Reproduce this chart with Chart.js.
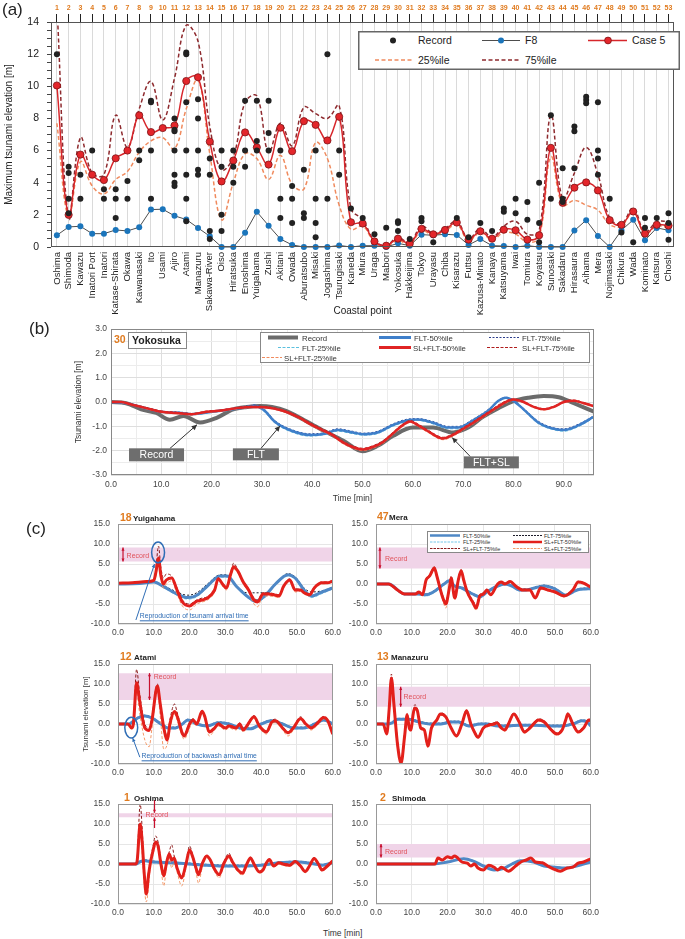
<!DOCTYPE html>
<html>
<head>
<meta charset="utf-8">
<script src="https://cdn.jsdelivr.net/npm/chart.js@4.4.1/dist/chart.umd.min.js"></script>
<style>
  body { margin: 0; background: #fff; font-family: "Liberation Sans", Arial, sans-serif; }
  #page { position: relative; width: 685px; height: 939px; overflow: hidden; background: #fff; }
  .t { position: absolute; white-space: nowrap; color: #222; line-height: 1.2; z-index: 5; }
  .ov { position: absolute; z-index: 5; font-family: "Liberation Sans", Arial, sans-serif; }
</style>
</head>
<body>
<div id="page"></div>
<script>
// ---------- (a) maximum tsunami elevation per coastal point ----------
const names = ['Oshima', 'Shimoda', 'Kawazu', 'Inatori Port', 'Inatori', 'Katase-Shirata', 'Okawa', 'Kawanasaki', 'Ito', 'Usami',
  'Ajiro', 'Atami', 'Manazuru', 'Sakawa-River', 'Oiso', 'Hiratsuka', 'Enoshima', 'Yuigahama', 'Zushi', 'Akitani',
  'Owada', 'Aburatsubo', 'Misaki', 'Jogashima', 'Tsurugisaki', 'Kaneda', 'Miura', 'Uraga', 'Mabori', 'Yokosuka',
  'Hakkeijima', 'Tokyo', 'Urayasu', 'Chiba', 'Kisarazu', 'Futtsu', 'Kazusa-Minato', 'Kanaya', 'Katsuyama', 'Iwai',
  'Tomiura', 'Koyatsu', 'Sunosaki', 'Sakadaru', 'Hirasaura', 'Aihama', 'Mera', 'Nojimasaki', 'Chikura', 'Wada',
  'Kominato', 'Katsura', 'Choshi'];
const pointNo = names.map((n, i) => String(i + 1));

const f8 = [0.73, 1.25, 1.29, 0.83, 0.83, 1.06, 1.0, 1.23, 2.33, 2.35, 1.94, 1.71, 1.19, 0.67, 0, 0, 0.88, 2.19, 1.33, 0.5,
  0.13, 0, 0, 0, 0.1, 0, 0.08, 0.08, 0, 0.23, 0.08, 0.77, 0.73, 0.79, 0.75, 0.13, 0.5, 0.08, 0.06, 0,
  0.08, 0, 0, 0, 1.02, 1.67, 0.69, 0, 1.04, 1.69, 0.42, 1.19, 1.04];
const case5 = [10.05, 2.0, 5.75, 4.5, 4.17, 5.52, 6.0, 8.19, 7.15, 7.4, 7.56, 10.33, 10.56, 6.56, 4.08, 5.38, 7.13, 6.2, 5.13, 7.42,
  5.96, 7.83, 7.6, 6.63, 8.1, 1.54, 1.46, 0.35, 0.08, 0.52, 0.21, 1.13, 0.79, 1.06, 1.52, 0.46, 0.98, 0.52, 1.08, 1.04,
  0.46, 0.73, 6.17, 2.75, 3.69, 4.02, 3.52, 1.67, 1.38, 2.21, 0.83, 1.38, 1.33];
const p25 = [7.7, 1.9, 5.3, 3.8, 3.3, 4.2, 4.7, 5.9, 6.6, 6.8, 6.1, 8.6, 10.4, 5.8, 1.7, 4.0, 5.8, 5.5, 4.2, 5.7,
  3.9, 3.6, 6.5, 5.5, 2.6, 1.1, 1.3, 0.3, 0.05, 0.4, 0.15, 1.0, 0.75, 1.0, 1.4, 0.4, 0.9, 0.45, 0.9, 0.8,
  0.3, 0.6, 5.6, 2.6, 2.9, 2.6, 2.3, 1.4, 1.3, 2.2, 0.8, 1.3, 1.2];
const p75 = [15, 1.8, 6.8, 4.6, 4.5, 8.2, 6.2, 8.6, 10.3, 7.9, 10.5, 13.8, 12.8, 7.5, 4.8, 5.6, 9.0, 9.4, 5.9, 7.7,
  6.3, 8.7, 8.3, 8.0, 8.8, 2.4, 1.7, 0.4, 0.1, 0.6, 0.25, 1.3, 0.85, 1.15, 1.6, 0.5, 1.15, 0.6, 1.3, 1.6,
  0.8, 1.0, 8.2, 3.0, 4.6, 6.2, 4.5, 1.8, 1.45, 2.4, 0.95, 1.55, 1.6];
const recordVals = [[12.0], [5.0, 4.6, 3.0, 2.1], [4.5, 3.0], [6.0], [3.6, 3.0], [3.6, 3.0, 1.8], [4.1, 3.0], [6.0, 5.4],
  [9.1, 9.0, 6.0, 3.0], [], [8.0, 7.3, 7.2, 6.0, 4.5, 4.0, 3.8], [12.1, 12.0, 9.0, 6.0, 4.5, 3.0, 1.6], [9.2, 8.0, 6.0, 4.8, 4.5],
  [5.5, 4.5, 1.0, 0.5], [6.0, 5.0, 2.0, 1.0], [6.0, 5.0, 4.0], [9.1, 6.0, 5.0], [9.1, 6.6, 6.0], [9.1, 7.1, 6.0],
  [6.0, 3.0, 1.8], [3.8, 3.0, 1.5], [4.8, 2.1, 1.8], [6.0, 3.0, 1.5, 0.6], [12.0, 3.0], [6.0, 4.5], [2.4], [1.8], [0.8],
  [1.2], [1.6, 1.5, 1.0], [0.5], [1.8, 1.6], [0.3], [], [1.8], [0.6], [1.5], [1.0], [2.4, 2.2], [3.0, 2.1], [2.8, 1.7],
  [4.0, 1.5, 0.3], [8.2, 3.0], [4.9, 3.0, 2.8], [7.5, 7.2, 4.9], [9.35, 9.15, 8.95], [9.0, 6.0, 5.5, 4.5], [3.0], [0.9],
  [0.3], [1.8, 1.2], [1.8], [2.1, 1.5, 0.45]];

// ---------- (b) Yokosuka time series ----------
const ykRecT = [0, 3, 6, 9, 11.7, 14.4, 17.7, 21, 24.3, 27, 29.6, 32, 34.9, 38, 41.6, 46.2, 50, 53, 56, 60, 64, 68, 71, 74, 77, 80, 83, 86, 89, 92, 96];
const ykRec = [0, -0.05, -0.3, -0.45, -0.73, -0.57, -0.84, -0.65, -0.3, -0.2, -0.16, -0.2, -0.37, -0.7, -1.11, -1.59, -2.02, -1.8, -1.4, -1.05,
  -1.05, -1.25, -1.05, -0.6, -0.25, 0.04, 0.18, 0.25, 0.2, -0.05, -0.4];
const ykFltT = [0, 3, 6, 10, 14, 16, 20, 24, 27, 28.5, 30.5, 32.5, 35.5, 39.5, 42.5, 45, 48, 50, 53, 56, 59, 61, 64, 67, 69, 72, 75, 77, 78.5, 80, 82, 85, 88, 90, 93, 96];
const ykFlt50 = [0, -0.05, -0.2, -0.4, -0.45, -0.5, -0.4, -0.3, -0.2, -0.15, -0.35, -0.8, -1.15, -1.35, -1.3, -1.15, -1.25, -1.32, -1.25, -0.95,
  -0.75, -0.72, -0.85, -1.05, -1.05, -0.75, -0.35, 0.05, 0.18, 0.05, -0.3, -0.85, -1.1, -1.15, -0.95, -0.6];
const ykFlt75 = [0, -0.04, -0.18, -0.38, -0.42, -0.47, -0.37, -0.27, -0.17, -0.12, -0.3, -0.75, -1.1, -1.3, -1.26, -1.1, -1.2, -1.28, -1.2, -0.9,
  -0.7, -0.68, -0.8, -1.0, -1.0, -0.7, -0.3, 0.08, 0.2, 0.08, -0.26, -0.8, -1.06, -1.1, -0.9, -0.56];
const ykFlt25 = [0, -0.06, -0.22, -0.42, -0.48, -0.53, -0.43, -0.33, -0.23, -0.18, -0.4, -0.85, -1.2, -1.4, -1.34, -1.2, -1.3, -1.36, -1.3, -1.0,
  -0.8, -0.76, -0.9, -1.1, -1.1, -0.8, -0.4, 0.02, 0.15, 0.02, -0.34, -0.9, -1.14, -1.2, -1.0, -0.64];
const ykSlT = [0, 2, 4, 7, 10, 13, 16, 19, 22, 25, 28, 31, 34, 37, 40, 42, 44, 46, 48, 50, 52, 54, 56, 58, 59.5, 61, 63, 66, 68, 70,
  72, 75, 78, 80, 82, 84, 86, 88, 90, 92, 94, 96];
const ykSl50 = [0, 0, -0.1, -0.25, -0.4, -0.45, -0.5, -0.4, -0.35, -0.25, -0.2, -0.22, -0.35, -0.6, -0.95, -1.15, -1.35, -1.65, -1.85, -1.95,
  -1.85, -1.65, -1.3, -0.95, -0.8, -0.95, -1.2, -1.5, -1.35, -1.1, -0.85, -0.45, -0.05, 0.1, 0.0, -0.2, -0.3, -0.2, 0.0, 0.05, -0.05, -0.17];
const ykSl75 = [0, 0.02, -0.08, -0.22, -0.37, -0.42, -0.47, -0.37, -0.32, -0.22, -0.17, -0.19, -0.32, -0.56, -0.9, -1.1, -1.3, -1.6, -1.8, -1.9,
  -1.8, -1.6, -1.25, -0.9, -0.76, -0.9, -1.15, -1.45, -1.3, -1.05, -0.8, -0.4, 0, 0.13, 0.03, -0.17, -0.27, -0.17, 0.03, 0.08, -0.02, -0.14];
const ykSl25 = [0, -0.02, -0.12, -0.28, -0.43, -0.48, -0.53, -0.43, -0.38, -0.28, -0.23, -0.25, -0.38, -0.64, -1.0, -1.2, -1.4, -1.7, -1.9, -2.0,
  -1.9, -1.7, -1.35, -1.0, -0.84, -1.0, -1.25, -1.55, -1.4, -1.15, -0.9, -0.5, -0.1, 0.07, -0.03, -0.23, -0.33, -0.23, -0.03, 0.02, -0.08, -0.2];

// ---------- (c) six stations ----------
const yuiRedT = [0, 4, 8, 10, 10.6, 11.3, 12, 12.7, 13.5, 15, 16.5, 18, 20, 22, 23.5, 25, 27, 28, 29.2, 30.3, 31.5, 32.3, 33.5, 35, 36.5, 38, 39, 40.5, 42, 44, 45, 46.3, 48, 49.5, 51, 52, 53.5, 55, 57, 58.5, 60];
const yuiRed50 = [0.2, 0.3, 0.6, 0.9, 3, 6.5, 2, 0, 1, 1.5, -1.5, -4.5, -5.5, -4.3, -4, -3.5, -1.5, 1.3, 0, -1, 2.5, 4.3, 3.2, 0.5, -1.5, -4, -4.5, -2.5, -2.5, -2.8, -3, -0.5, 1, -1.5, -1.5, -2.2, -2.7, -0.8, 0.3, 0.3, 0.7];
const yuiRed75 = [0.2, 0.3, 0.6, 1, 4, 9.5, 4, 1.5, 2.5, 2, -1, -4, -5, -4, -3.5, -3.2, -1.2, 1.5, 0.3, -0.7, 3, 5.2, 3.5, 0.8, -1.2, -3.5, -4, -2.2, -2.2, -2.5, -2.7, -0.3, 1.3, -1.2, -1.3, -2, -2.5, -0.5, 0.5, 0.5, 0.9];
const yuiRed25 = [0.2, 0.3, 0.6, 0.8, 2, 5.5, 1, -1, 0, 0.8, -2.5, -5.5, -6.5, -5, -4.5, -4, -2, 1, -0.5, -1.5, 2, 3.8, 2.8, 0, -2, -5, -5.7, -3, -3, -3.2, -3.4, -1, 0.6, -2, -1.8, -2.5, -3, -1.2, 0, 0.1, 0.5];
const yuiBlueT = [0, 6, 10, 13, 16, 19.5, 22, 25, 28.5, 30.5, 33, 36, 38.5, 41, 44, 47.5, 49.5, 52, 54, 57, 60];
const yuiBlue50 = [0, 0.1, 0.5, -0.8, -2.3, -3.4, -2.8, -0.5, 2, 2, -0.5, -3, -4.3, -3, 0, 2.3, 1.5, -1.5, -3, -2, -1];
const yuiBlue75 = [0, 0.1, 0.6, -0.5, -1.8, -2.8, -2.2, 0, 2.3, 2.3, -0.3, -2.2, -2.2, -2.2, 0.2, 2.6, 1.8, -1, -2, -1.7, -0.8];
const yuiBlue25 = [0, 0.1, 0.4, -1, -2.6, -3.8, -3.2, -0.8, 1.7, 1.7, -0.8, -3.3, -4.6, -3.4, -0.3, 2, 1.2, -1.8, -3.4, -2.4, -1.2];
const yuiBand = [5.6, 9.1];

const meraRedT = [0, 3.5, 6, 8, 11, 12, 13, 14, 15, 16.3, 17, 18.5, 19.5, 20.5, 21, 22, 23, 23.8, 24.5, 25.5, 27, 28, 29, 30, 31, 32, 34, 35, 36, 37.5, 39, 41, 43, 44.5, 46, 48, 50, 52.5, 55, 56.5, 58, 60];
const meraRed50 = [0, 0, -1.5, -2.5, -2.5, -2, -2.7, 1, 2, 4, 2, -3, -5, -1, 1.5, -3.5, 1, 3.3, 1, -2, -4.5, -6, -3, -2.5, -1.5, -2.7, 0, 0.5, 0, 0.6, -0.5, -1.5, -1.5, -3.5, -1, -1.5, -2, -3, -1.5, 0.5, 0.2, -0.8];
const meraRed75 = [0, 0, -1.4, -2.4, -2.4, -1.9, -2.5, 1.3, 2.3, 4.3, 2.3, -2.5, -4.3, -0.6, 2, -3, 1.5, 3.6, 1.3, -1.7, -4, -5.3, -2.6, -2.2, -1.3, -2.4, 0.2, 0.7, 0.2, 0.8, -0.3, -1.3, -1.3, -3.2, -0.8, -1.3, -1.8, -2.8, -1.3, 0.7, 0.4, -0.6];
const meraRed25 = [0, 0, -1.6, -2.6, -2.6, -2.1, -2.9, 0.7, 1.7, 3.5, 1.6, -3.5, -6, -1.5, 1, -4, 0.5, 2.8, 0.6, -2.4, -5, -6.6, -3.4, -2.8, -1.7, -3, -0.2, 0.3, -0.2, 0.4, -0.7, -1.7, -1.7, -3.8, -1.2, -1.7, -2.2, -3.2, -1.7, 0.3, 0, -1];
const meraBlueT = [0, 3.5, 8, 12, 14, 16, 19, 20.5, 22, 24, 27, 29, 31, 34, 36, 38, 40, 42, 45, 47, 50, 53, 55, 57, 60];
const meraBlue50 = [0, 0, -2.5, -2.5, -2.7, -2, 0, 0.8, -0.5, -1, -2.5, -3.2, -2, -0.5, 0, -0.5, -1.5, -1.5, -0.8, -0.5, -1.2, -2.8, -2, -1.3, -1.2];
const meraBlue75 = [0, 0, -2.4, -2.4, -2.5, -1.8, 0.2, 1, -0.3, -0.8, -2.3, -3, -1.8, -0.3, 0.2, -0.3, -1.3, -1.3, -0.6, -0.3, -1, -2.6, -1.8, -1.1, -1];
const meraBlue25 = [0, 0, -2.7, -2.7, -3, -2.3, -0.3, 0.6, -0.7, -1.2, -2.7, -3.4, -2.2, -0.7, -0.2, -0.7, -1.7, -1.7, -1, -0.7, -1.4, -3, -2.2, -1.5, -1.4];
const meraBand = [3.9, 9.1];

const atamiRedT = [0, 2.8, 3.8, 4.3, 5.2, 6, 7.5, 8.7, 9.5, 11, 11.8, 12.8, 13.8, 14.5, 15.8, 16.5, 18.5, 20, 21, 22, 23.5, 24.2, 25.5, 27, 28, 30, 31, 33, 34, 35, 36, 38, 39.5, 41.5, 43, 44, 46, 47.5, 49, 51, 52.5, 54, 55.5, 57.5, 58.5, 60];
const atamiRed50 = [0, 0, -1, 0, 10.3, 6, -1, -1.6, 1, 9.5, 5, -1, -4, 0, 3.1, 2, -3, 0, 1, 0, 3.2, 2, -2, -1, 0, -1, -0.5, -1, 0, -1.5, -0.5, 1.8, -0.5, -2, 0.5, 0.8, -1, -2.2, -1, 1.4, 0, -1, 0, 1.6, 1, -2.5];
const atamiRed75 = [0, 0, -0.8, 0.5, 13.7, 8, 0, -1, 2, 10, 5.5, -0.5, -3, 1, 5, 3, -2.5, 0.5, 1.3, 0.3, 3.4, 2.3, -1.7, -0.7, 0.3, -0.8, -0.3, -0.8, 0.3, -1.3, -0.2, 2.1, -0.3, -1.8, 0.8, 1.2, -0.7, -2, -0.7, 1.8, 0.2, -0.8, 0.2, 1.9, 1.2, -2.2];
const atamiRed25 = [0, 0, -1.2, -0.5, 8, 3, -4, -5.7, -1, 8.5, 2, -6.3, -5, -1.5, 2.5, 1, -3.8, -1, 0.5, -0.5, 2.8, 1.5, -3, -1.5, -0.5, -1.5, -1, -1.5, -0.5, -2, -1, 1.4, -1, -2.5, 0, 0.3, -1.5, -3, -1.5, 1, -0.5, -1.5, -0.5, 1.2, 0.6, -3];
const atamiBlueT = [0, 3, 4, 5.5, 7.5, 9.5, 12, 14, 16, 18, 19.5, 22, 25, 28, 31, 34, 37, 40, 43, 46, 49, 52, 55, 57.5, 60];
const atamiBlue50 = [0, 0, 0.5, 1.5, 2, 1.5, 0, -1, -1, 0, 1, 0, -0.5, 0.3, 0, -1, -1.2, 0, 0.8, 0, -1, -1, 0, 1, 0];
const atamiBlue75 = [0, 0, 0.6, 1.7, 2.2, 1.7, 0.2, -0.8, -0.8, 0.2, 1.2, 0.2, -0.3, 0.5, 0.2, -0.8, -1, 0.2, 1, 0.2, -0.8, -0.8, 0.2, 1.2, 0.2];
const atamiBlue25 = [0, 0, 0.4, 1.3, 1.8, 1.3, -0.2, -1.2, -1.2, -0.2, 0.8, -0.2, -0.7, 0.1, -0.2, -1.2, -1.4, -0.2, 0.6, -0.2, -1.2, -1.2, -0.2, 0.8, -0.2];
const atamiBand = [6.0, 12.7];

const manaRedT = [0, 2, 3, 3.7, 4.3, 5, 6, 7, 8, 8.7, 9.3, 9.8, 10.3, 10.8, 11.5, 12.5, 13.5, 14.5, 15.5, 17, 18, 19.5, 21, 22.5, 24, 25.3, 26.5, 27.5, 28.5, 30, 31.5, 33, 33.8, 35, 36, 37, 38.5, 40, 41.5, 43, 45.5, 47, 49, 50.5, 52, 53, 53.6, 55, 56.5, 58, 59.5, 60];
const manaRed50 = [0, 0, -2.5, 4, 11.5, 5, -5, -9.8, -3, 2.3, -1, -1.5, 2, 4, 3.5, -1, -1.5, -5.5, -1, 1, 2.5, 1.8, -1, -3, 0, 3.3, 0, -2, -3.3, -1, -0.3, 0, 0.3, -1, -1.5, 0, 2.5, 0.5, -2, -1, 1, 0.5, -1.5, -2.5, -1.5, 1, 2.5, 0, -2, -1, 1, 0.8];
const manaRed75 = [0, 0, -2.3, 5, 12.5, 6, -4, -9, -2, 2.6, -0.7, -1.2, 2.5, 4.8, 4, -0.7, -1.2, -5, -0.7, 1.3, 2.8, 2.1, -0.7, -2.7, 0.3, 3.6, 0.3, -1.7, -3, -0.7, 0, 0.3, 0.6, -0.7, -1.2, 0.3, 2.8, 0.8, -1.7, -0.7, 1.3, 0.8, -1.2, -2.2, -1.2, 1.3, 2.8, 0.3, -1.7, -0.7, 1.3, 1];
const manaRed25 = [0, 0, -2.7, 3, 10.5, 4, -6, -10, -4, 2, -1.3, -1.8, 1.5, 3.5, 3, -1.3, -1.8, -6, -1.3, 0.7, 2.2, 1.5, -1.3, -3.3, -0.3, 3, -0.3, -2.3, -3.6, -1.3, -0.6, -0.3, 0, -1.3, -1.8, -0.3, 2.2, 0.2, -2.3, -1.3, 0.7, 0.2, -1.8, -2.8, -1.8, 0.7, 2.2, -0.3, -2.3, -1.3, 0.7, 0.5];
const manaBlueT = [0, 3, 4.5, 6, 9, 12, 15, 18, 21, 23, 26, 29, 31, 34, 37, 40, 44, 48, 52, 55, 57.5, 59, 60];
const manaBlue50 = [0, 0, 0.3, 1.2, 1.2, 0.5, 0, 0, 0.5, 0.5, -0.5, 0, 0, -0.5, -0.5, -0.3, -0.3, -0.5, -0.5, 0, 0.8, 0.5, -0.5];
const manaBlue75 = [0, 0, 0.4, 1.4, 1.4, 0.7, 0.2, 0.2, 0.7, 0.7, -0.3, 0.2, 0.2, -0.3, -0.3, -0.1, -0.1, -0.3, -0.3, 0.2, 1, 0.7, -0.3];
const manaBlue25 = [0, 0, 0.2, 1, 1, 0.3, -0.2, -0.2, 0.3, 0.3, -0.7, -0.2, -0.2, -0.7, -0.7, -0.5, -0.5, -0.7, -0.7, -0.2, 0.6, 0.3, -0.7];
const manaBand = [4.3, 9.3];

const oshRedT = [0, 4.8, 5.3, 6.2, 6.8, 7.3, 7.9, 8.5, 9, 9.7, 10.5, 11.2, 12, 12.8, 13.5, 14.3, 15, 15.7, 16.5, 17.8, 19, 20, 20.8, 21.8, 22.5, 23.5, 24.8, 25.8, 26.8, 28.3, 29.5, 31, 32, 33.5, 34.8, 36, 37, 38, 39.5, 40.5, 41.3, 42.3, 43.5, 45, 46, 48, 49.5, 51, 52.3, 53.5, 54.8, 56, 57, 58.5, 60];
const oshRed50 = [0, 0, 0.5, 10, 5, -2, -7.5, -3, 0, 3, 5.5, 4.5, 0, -3, 0, 2.5, 1, 1.5, -1, -3.5, 0, 3.5, 2, -1, -2.7, 0, 2, 1, -1, -2.7, 0, 2, 0.5, -1.5, -2.3, 0, 1.5, 0, -2, -1.5, 0, 1.1, -0.5, 0.3, 0, -0.3, 0.6, -0.5, -1.9, -0.5, 1.4, 0, -1.5, -0.5, 0.8];
const oshRed75 = [0, 0, 1, 15, 8, -1, -6, -2, 1, 4, 7, 5.5, 1, -2.5, 0.5, 3, 4.8, 2, -0.5, -3, 0.5, 4.5, 2.5, -0.7, -2.4, 0.3, 2.2, 1.2, -0.8, -2.4, 0.3, 2.7, 0.7, -1.3, -2, 0.2, 1.7, 0.2, -1.8, -1.3, 0.2, 1.3, -0.3, 0.5, 0.2, -0.1, 0.8, -0.3, -1.7, -0.3, 1.6, 0.2, -1.3, -0.3, 1];
const oshRed25 = [0, 0, 0.3, 8, 2, -5, -9.5, -6, -1, 2, 4.5, 3.5, -1, -5.5, -1, 1.5, -1, 0.5, -2, -5.5, -1, 3, 1.5, -2, -4.8, -1, 1.5, 0.5, -1.5, -3.5, -0.5, 1.5, 0, -2, -2.8, -0.5, 1.2, -0.3, -2.3, -1.8, -0.3, 0.8, -0.8, 0, -0.3, -0.6, 0.3, -0.8, -2.2, -0.8, 1.1, -0.3, -1.8, -0.8, 0.5];
const oshBlueT = [0, 5, 6, 7.5, 10, 15, 20, 25, 30, 35, 40, 45, 50, 55, 57, 60];
const oshBlue50 = [0, 0, 0.5, 0.8, 0.5, 0.3, 0, -0.3, -0.5, -0.5, -0.3, 0.3, 0.5, 0, -0.3, 0.3];
const oshBlue75 = [0, 0, 0.6, 1, 0.7, 0.5, 0.2, -0.1, -0.3, -0.3, -0.1, 0.5, 0.7, 0.2, -0.1, 0.5];
const oshBlue25 = [0, 0, 0.4, 0.6, 0.3, 0.1, -0.2, -0.5, -0.7, -0.7, -0.5, 0.1, 0.3, -0.2, -0.5, 0.1];
const oshBand = [11.7, 12.7];

const shiRedT = [0, 16.5, 17.3, 18.5, 20, 21, 22, 24, 25.5, 26.5, 27.5, 28.5, 30, 31.5, 33, 34, 35, 37, 39, 40.5, 42, 43.3, 44.5, 46.5, 48, 49.5, 51.5, 53.5, 55, 56.5, 58, 60];
const shiRed50 = [0, 0, 1.5, 1, 1.8, 1.5, 2, 0.5, 0.2, -0.5, 0, -1, -1.5, -0.3, -0.8, -1.5, -0.8, -1.8, -0.5, 0.5, 1, 1.5, 0.5, 0.3, -0.5, -1.2, -1.8, -1, -0.8, 0.2, 0.5, 1.3];
const shiRed75 = [0, 0, 1.6, 1.1, 1.9, 1.6, 2.1, 0.6, 0.3, -0.4, 0.1, -0.9, -1.4, -0.2, -0.7, -1.4, -0.7, -1.7, -0.4, 0.6, 1.1, 1.6, 0.6, 0.4, -0.4, -1.1, -1.7, -0.9, -0.7, 0.3, 0.6, 1.4];
const shiRed25 = [0, 0, 1.4, 0.9, 1.7, 1.4, 1.9, 0.4, 0.1, -0.6, -0.1, -1.1, -1.6, -0.4, -0.9, -1.6, -0.9, -1.9, -0.6, 0.4, 0.9, 1.4, 0.4, 0.2, -0.6, -1.3, -1.9, -1.1, -0.9, 0.1, 0.4, 1.2];
const shiBlueT = [0, 16, 20, 24.5, 27, 30, 33, 36, 38, 40.5, 44, 47, 50, 53, 56, 58, 60];
const shiBlue50 = [0, 0, 0.5, 1.3, 0.8, -0.5, -1.5, -1, 0, 0.8, 0.5, -0.5, -0.8, -1, -0.5, 0, 0.5];
const shiBlue75 = [0, 0, 0.6, 1.4, 0.9, -0.4, -1.4, -0.9, 0.1, 0.9, 0.6, -0.4, -0.7, -0.9, -0.4, 0.1, 0.6];
const shiBlue25 = [0, 0, 0.4, 1.2, 0.7, -0.6, -1.6, -1.1, -0.1, 0.7, 0.4, -0.6, -0.9, -1.1, -0.6, -0.1, 0.4];
const shiBand = [1.6, 5.0];

// ---------- helpers ----------
const FONT = '"Liberation Sans", Arial, sans-serif';
Chart.defaults.font.family = FONT;
Chart.defaults.animation = false;
const page = document.getElementById('page');

function makeCanvas(left, top, w, h) {
  const c = document.createElement('canvas');
  c.width = w; c.height = h;
  c.style.cssText = 'position:absolute;left:' + left + 'px;top:' + top + 'px;width:' + w + 'px;height:' + h + 'px';
  page.appendChild(c);
  return c;
}
function addHTML(html) { page.insertAdjacentHTML('beforeend', html); }
function txt(s, left, cy, size, color, bold) {
  addHTML('<div class="t" style="left:' + left + 'px;top:' + (cy - size * 0.62) + 'px;font-size:' + size + 'px;color:' + (color || '#222') +
    ';font-weight:' + (bold ? 'bold' : 'normal') + '">' + s + '</div>');
}
const ts = (T, V) => T.map((t, i) => ({ x: t, y: V[i] }));

const frame = color => ({
  id: 'frame',
  afterDatasetsDraw(chart) {
    const { ctx, chartArea: a } = chart;
    ctx.save();
    ctx.strokeStyle = color; ctx.lineWidth = 1;
    ctx.strokeRect(Math.round(a.left) + 0.5, Math.round(a.top) + 0.5, Math.round(a.width) - 1, Math.round(a.height) - 1);
    ctx.restore();
  }
});

function arrowHead(ctx, x1, y1, x2, y2, s) {
  const a = Math.atan2(y2 - y1, x2 - x1);
  ctx.beginPath();
  ctx.moveTo(x2, y2);
  ctx.lineTo(x2 - s * Math.cos(a - 0.45), y2 - s * Math.sin(a - 0.45));
  ctx.lineTo(x2 - s * Math.cos(a + 0.45), y2 - s * Math.sin(a + 0.45));
  ctx.closePath();
  ctx.fill();
}

// annotations placed in data coordinates
const notes = items => ({
  id: 'notes',
  afterDraw(chart) {
    const { ctx } = chart;
    const sx = chart.scales.x, sy = chart.scales.y;
    const X = v => sx.getPixelForValue(v), Y = v => sy.getPixelForValue(v);
    ctx.save();
    items.forEach(it => {
      const c = it.color || '#222';
      ctx.strokeStyle = c; ctx.fillStyle = c; ctx.lineWidth = it.lw || 1;
      if (it.type === 'arrow' || it.type === 'dbl') {
        const x1 = X(it.x1 ?? it.x), y1 = Y(it.y1), x2 = X(it.x2 ?? it.x), y2 = Y(it.y2);
        ctx.beginPath(); ctx.moveTo(x1, y1); ctx.lineTo(x2, y2); ctx.stroke();
        arrowHead(ctx, x1, y1, x2, y2, it.head || 5);
        if (it.type === 'dbl') arrowHead(ctx, x2, y2, x1, y1, it.head || 5);
      } else if (it.type === 'ellipse') {
        const cx = X(it.x), cy = Y(it.y);
        ctx.beginPath();
        ctx.ellipse(cx, cy, Math.abs(X(it.x + it.rx) - cx), Math.abs(Y(it.y + it.ry) - cy), 0, 0, Math.PI * 2);
        ctx.stroke();
      } else if (it.type === 'text') {
        const size = it.size || 7;
        ctx.font = size + 'px ' + FONT;
        ctx.textBaseline = 'middle'; ctx.textAlign = 'left';
        const x = X(it.x), y = Y(it.y);
        ctx.fillText(it.text, x, y);
        if (it.underline) {
          const w = ctx.measureText(it.text).width;
          ctx.beginPath(); ctx.moveTo(x, y + size * 0.65); ctx.lineTo(x + w, y + size * 0.65); ctx.stroke();
        }
      } else if (it.type === 'box') {
        const x = X(it.x), y = Y(it.y);
        ctx.fillStyle = '#6e6e6e';
        ctx.fillRect(x - it.w / 2, y - it.h / 2, it.w, it.h);
        ctx.fillStyle = '#fff';
        ctx.font = '10.5px ' + FONT;
        ctx.textAlign = 'center'; ctx.textBaseline = 'middle';
        ctx.fillText(it.text, x, y + 0.5);
      }
    });
    ctx.restore();
  }
});

// ---------- chart (a) ----------
const recPts = [];
recordVals.forEach((vals, i) => vals.forEach(v => recPts.push({ x: names[i], y: v })));

new Chart(makeCanvas(0, 0, 685, 320), {
  type: 'line',
  data: {
    labels: names,
    datasets: [
      { label: 'Record', data: recPts, showLine: false, pointRadius: 3, pointBackgroundColor: '#222', pointBorderWidth: 0, order: 0, clip: 6 },
      { label: 'Case 5', data: case5, borderColor: '#d7262b', borderWidth: 1.5, tension: 0.4, pointRadius: 3.6,
        pointBackgroundColor: '#e3262b', pointBorderColor: '#7d1416', pointBorderWidth: 0.8, order: 1, clip: 6 },
      { label: 'F8', data: f8, borderColor: '#4d4d4d', borderWidth: 1, tension: 0, pointRadius: 3,
        pointBackgroundColor: '#1b75bb', pointBorderWidth: 0, order: 2, clip: 6 },
      { label: '75%ile', data: p75, borderColor: '#8e2a2e', borderDash: [4, 2.5], borderWidth: 1.5, tension: 0.4, pointRadius: 0, order: 3 },
      { label: '25%ile', data: p25, borderColor: '#f08a5d', borderDash: [4, 2.5], borderWidth: 1.5, tension: 0.4, pointRadius: 0, order: 4 }
    ]
  },
  options: {
    responsive: false,
    layout: { padding: { right: 2 } },
    scales: {
      x: {
        offset: true,
        grid: { color: '#dadada', offset: false, drawTicks: false },
        border: { display: false },
        ticks: { autoSkip: false, minRotation: 90, maxRotation: 90, font: { size: 9.5 }, color: '#222', padding: 5 },
        title: { display: true, text: 'Coastal point', font: { size: 10 }, color: '#222', padding: { top: 0, bottom: 3 } },
        afterFit: s => { s.height = 73; }
      },
      x2: {
        type: 'category', position: 'top', labels: pointNo, offset: true,
        grid: { drawOnChartArea: false, tickLength: 8, color: '#222', offset: false },
        border: { display: false },
        ticks: { color: '#e07b1f', font: { size: 7, weight: 'bold' }, padding: 2, autoSkip: false, maxRotation: 0 },
        afterFit: s => { s.height = 22; }
      },
      y: {
        min: 0, max: 14,
        ticks: { stepSize: 0.5, autoSkip: false, callback: v => (v % 2 === 0 ? String(v) : ''), font: { size: 10.5 }, color: '#222', padding: 8 },
        grid: { drawOnChartArea: false, tickLength: 4, color: '#444' },
        border: { display: false },
        title: { display: true, text: 'Maximum tsunami elevation [m]', font: { size: 10 }, color: '#222', padding: { top: 3, bottom: 0 } },
        afterFit: s => { s.width = 51; }
      }
    },
    plugins: { legend: { display: false }, tooltip: { enabled: false } }
  },
  plugins: [frame('#555')]
});

addHTML('<svg class="ov" width="322" height="39" style="left:358px;top:31px" font-family=\'' + FONT + '\' font-size="10.5" fill="#222">' +
  '<rect x="0.75" y="0.75" width="320.5" height="37.5" fill="#fff" stroke="#666" stroke-width="1.5"/>' +
  '<circle cx="35" cy="9.5" r="3" fill="#222"/><text x="60" y="13">Record</text>' +
  '<line x1="124" y1="9.5" x2="162" y2="9.5" stroke="#4d4d4d" stroke-width="1"/><circle cx="143" cy="9.5" r="3" fill="#1b75bb"/><text x="167" y="13">F8</text>' +
  '<line x1="230" y1="9.5" x2="269" y2="9.5" stroke="#d7262b" stroke-width="1.5"/><circle cx="250" cy="9.5" r="3.4" fill="#e3262b" stroke="#7d1416" stroke-width="0.8"/><text x="274" y="13">Case 5</text>' +
  '<line x1="17" y1="29" x2="55" y2="29" stroke="#f08a5d" stroke-width="1.5" stroke-dasharray="4,2.5"/><text x="60" y="32.5">25%ile</text>' +
  '<line x1="124" y1="29" x2="162" y2="29" stroke="#8e2a2e" stroke-width="1.5" stroke-dasharray="4,2.5"/><text x="167" y="32.5">75%ile</text>' +
  '</svg>');
txt('(a)', 2, 11, 17);

// ---------- chart (b) ----------
const thin = { borderWidth: 1, pointRadius: 0 };
new Chart(makeCanvas(60, 320, 540, 185), {
  type: 'line',
  data: {
    datasets: [
      { data: ts(ykSlT, ykSl50), borderColor: '#e02424', borderWidth: 2.5, order: 0 },
      { data: ts(ykSlT, ykSl75), borderColor: '#b01c1c', borderDash: [3, 2], ...thin, order: 1 },
      { data: ts(ykSlT, ykSl25), borderColor: '#f08a5d', borderDash: [3, 2], ...thin, order: 2 },
      { data: ts(ykFltT, ykFlt50), borderColor: '#3f7fca', borderWidth: 2.5, order: 3 },
      { data: ts(ykFltT, ykFlt75), borderColor: '#2c3e8c', borderDash: [2, 2], ...thin, order: 4 },
      { data: ts(ykFltT, ykFlt25), borderColor: '#5bc0de', borderDash: [3, 2], ...thin, order: 5 },
      { data: ts(ykRecT, ykRec), borderColor: '#6b6b6b', borderWidth: 4, order: 6 }
    ]
  },
  options: {
    responsive: false,
    layout: { padding: { top: 7, right: 6 } },
    elements: { point: { radius: 0 }, line: { cubicInterpolationMode: 'monotone' } },
    scales: {
      x: {
        type: 'linear', min: 0, max: 96,
        ticks: { stepSize: 5, includeBounds: false, autoSkip: false, maxRotation: 0, callback: v => (v % 10 === 0 ? v.toFixed(1) : ''),
          font: { size: 8.5 }, color: '#444', padding: 5 },
        grid: { color: c => (c.tick && c.tick.value % 10 === 0 ? '#dedede' : '#ececec'), drawTicks: false },
        border: { display: false },
        title: { display: true, text: 'Time [min]', font: { size: 8.5 }, color: '#333', padding: { top: 0, bottom: 1 } },
        afterFit: s => { s.height = 30; }
      },
      y: {
        min: -3, max: 3,
        ticks: { stepSize: 0.5, autoSkip: false, callback: v => (Number.isInteger(v) ? v.toFixed(1) : ''), font: { size: 8.5 }, color: '#444', padding: 4 },
        grid: { color: c => (c.tick && Number.isInteger(c.tick.value) ? '#dedede' : '#ececec'), drawTicks: false },
        border: { display: false },
        title: { display: true, text: 'Tsunami elevation [m]', font: { size: 8.5 }, color: '#333', padding: { top: 14, bottom: 0 } },
        afterFit: s => { s.width = 51; }
      }
    },
    plugins: { legend: { display: false }, tooltip: { enabled: false } }
  },
  plugins: [frame('#888'), notes([
    { type: 'arrow', x1: 11.7, y1: -1.91, x2: 17.1, y2: -0.93, color: '#333', head: 6 },
    { type: 'arrow', x1: 29.8, y1: -1.91, x2: 33.6, y2: -0.98, color: '#333', head: 6 },
    { type: 'arrow', x1: 71.4, y1: -2.24, x2: 67.8, y2: -1.46, color: '#333', head: 6 },
    { type: 'box', x: 9.05, y: -2.17, w: 55, h: 13, text: 'Record' },
    { type: 'box', x: 28.8, y: -2.15, w: 46, h: 12, text: 'FLT' },
    { type: 'box', x: 75.6, y: -2.48, w: 55, h: 12, text: 'FLT+SL' }
  ])]
});

function lg(x1, x2, y, color, w, dash) {
  return '<line x1="' + x1 + '" y1="' + y + '" x2="' + x2 + '" y2="' + y + '" stroke="' + color + '" stroke-width="' + w + '"' +
    (dash ? ' stroke-dasharray="' + dash + '"' : '') + '/>';
}
function lt(x, y, s) { return '<text x="' + x + '" y="' + y + '">' + s + '</text>'; }

addHTML('<svg class="ov" width="330" height="31" style="left:260px;top:332px" font-family=\'' + FONT + '\' font-size="7.8" fill="#333">' +
  '<rect x="0.5" y="0.5" width="329" height="30" fill="#fff" stroke="#888"/>' +
  lg(8, 38, 5.5, '#6b6b6b', 4) + lt(42, 8.5, 'Record') +
  lg(119, 151, 5.5, '#3f7fca', 3) + lt(154, 8.5, 'FLT-50%ile') +
  lg(229, 259, 5.5, '#2c3e8c', 1, '2,1.5') + lt(262, 8.5, 'FLT-75%ile') +
  lg(18, 39, 15.5, '#5bc0de', 1, '3,1.5') + lt(42, 18.5, 'FLT-25%ile') +
  lg(119, 151, 15.5, '#e02424', 3) + lt(153, 18.5, 'SL+FLT-50%ile') +
  lg(227, 258, 15.5, '#b01c1c', 1, '3,1.5') + lt(262, 18.5, 'SL+FLT-75%ile') +
  lg(2, 22, 25.5, '#f08a5d', 1, '3,1.5') + lt(24, 28.5, 'SL+FLT-25%ile') +
  '</svg>');
txt('(b)', 29, 330, 17);
txt('30', 114, 340, 10.5, '#e07b1f', true);
addHTML('<div class="ov" style="left:128px;top:332px;width:54px;height:15px;border:1px solid #888;background:#fff;font-size:10.5px;font-weight:bold;line-height:15px;padding-left:3px;box-sizing:content-box;color:#222">Yokosuka</div>');

// ---------- charts (c) ----------
const redCol = '#e3201b', red75Col = '#8b1a1a', red25Col = '#f39a6b';
const bluCol = '#4f88c6', blu75Col = '#1d1d2b', blu25Col = '#74c7e8';
const recCol = '#c8102e', recTxt = '#e0525a', annBlue = '#2f6db5';

function smallChart(left, top, isLeft, T1, r50, r75, r25, T2, b50, b75, b25, band, items, yTitle) {
  const w = isLeft ? 285 : 258;
  const yw = isLeft ? 58 : 31;
  new Chart(makeCanvas(left, top, w, 135), {
    type: 'line',
    data: {
      datasets: [
        { data: ts(T1, r50), borderColor: redCol, borderWidth: 3, order: 0 },
        { data: ts(T1, r75), borderColor: red75Col, borderDash: [3, 2], ...thin, order: 1 },
        { data: ts(T1, r25), borderColor: red25Col, borderDash: [3, 2], ...thin, order: 2 },
        { data: ts(T2, b50), borderColor: bluCol, borderWidth: 3, order: 3 },
        { data: ts(T2, b75), borderColor: blu75Col, borderDash: [2, 2], ...thin, order: 4 },
        { data: ts(T2, b25), borderColor: blu25Col, borderDash: [3, 2], ...thin, order: 5 },
        { data: [{ x: 0, y: band[1] }, { x: 60, y: band[1] }], borderColor: 'rgba(0,0,0,0)', borderWidth: 1,
          backgroundColor: '#f0d4e8', fill: { value: band[0] }, order: 6 }
      ]
    },
    options: {
      responsive: false,
      layout: { padding: { top: 14, right: 10 } },
      elements: { point: { radius: 0 }, line: { cubicInterpolationMode: 'monotone' } },
      scales: {
        x: {
          type: 'linear', min: 0, max: 60,
          ticks: { stepSize: 10, autoSkip: false, maxRotation: 0, callback: v => v.toFixed(1), font: { size: 8.5 }, color: '#444', padding: 4 },
          grid: { color: '#e6e6e6', drawTicks: false },
          border: { display: false },
          afterFit: s => { s.height = 21; }
        },
        y: {
          min: -10, max: 15,
          ticks: { stepSize: 5, callback: v => v.toFixed(1), font: { size: 8.5 }, color: '#444', padding: 8 },
          grid: { color: '#e6e6e6', drawTicks: false },
          border: { display: false },
          title: yTitle ? { display: true, text: 'Tsunami elevation [m]', font: { size: 7.8 }, color: '#333', padding: { top: 21, bottom: 0 } } : { display: false },
          afterFit: s => { s.width = yw; }
        }
      },
      plugins: { legend: { display: false }, tooltip: { enabled: false } }
    },
    plugins: [frame('#999'), notes(items)]
  });
}

smallChart(60, 510, true, yuiRedT, yuiRed50, yuiRed75, yuiRed25, yuiBlueT, yuiBlue50, yuiBlue75, yuiBlue25, yuiBand, [
  { type: 'ellipse', x: 11.2, y: 7.9, rx: 1.8, ry: 2.6, color: annBlue, lw: 1.5 },
  { type: 'arrow', x1: 5.0, y1: -9.0, x2: 10.2, y2: 5.0, color: annBlue, head: 4 },
  { type: 'text', x: 6.1, y: -8.1, text: 'Reproduction of tsunami arrival time', color: annBlue, size: 6.8, underline: true },
  { type: 'dbl', x: 1.4, y1: 9.1, y2: 5.6, color: recCol, head: 3.5, lw: 1.2 },
  { type: 'text', x: 2.4, y: 7.1, text: 'Record', color: recTxt, size: 7 }
]);
smallChart(345, 510, false, meraRedT, meraRed50, meraRed75, meraRed25, meraBlueT, meraBlue50, meraBlue75, meraBlue25, meraBand, [
  { type: 'dbl', x: 1.1, y1: 9.1, y2: 3.9, color: recCol, head: 3.5, lw: 1.2 },
  { type: 'text', x: 2.5, y: 6.3, text: 'Record', color: recTxt, size: 7 }
]);
smallChart(60, 650, true, atamiRedT, atamiRed50, atamiRed75, atamiRed25, atamiBlueT, atamiBlue50, atamiBlue75, atamiBlue25, atamiBand, [
  { type: 'dbl', x: 8.8, y1: 12.7, y2: 6.0, color: recCol, head: 3.5, lw: 1.2 },
  { type: 'text', x: 10.0, y: 11.8, text: 'Record', color: recTxt, size: 7 },
  { type: 'ellipse', x: 3.7, y: -0.9, rx: 1.8, ry: 2.6, color: annBlue, lw: 1.5 },
  { type: 'arrow', x1: 6.1, y1: -8.3, x2: 4.1, y2: -3.5, color: annBlue, head: 4 },
  { type: 'text', x: 6.6, y: -8.1, text: 'Reproduction of backwash arrival time', color: annBlue, size: 6.8, underline: true }
], true);
smallChart(345, 650, false, manaRedT, manaRed50, manaRed75, manaRed25, manaBlueT, manaBlue50, manaBlue75, manaBlue25, manaBand, [
  { type: 'dbl', x: 6.9, y1: 9.3, y2: 4.3, color: recCol, head: 3.5, lw: 1.2 },
  { type: 'text', x: 7.7, y: 6.8, text: 'Record', color: recTxt, size: 7 }
]);
smallChart(60, 790, true, oshRedT, oshRed50, oshRed75, oshRed25, oshBlueT, oshBlue50, oshBlue75, oshBlue25, oshBand, [
  { type: 'arrow', x: 10.2, y1: 16, y2: 12.8, color: recCol, head: 3.5, lw: 1.2 },
  { type: 'arrow', x: 10.2, y1: 9.0, y2: 11.6, color: recCol, head: 3.5, lw: 1.2 },
  { type: 'text', x: 7.7, y: 12.25, text: 'Record', color: recTxt, size: 7 }
]);
smallChart(345, 790, false, shiRedT, shiRed50, shiRed75, shiRed25, shiBlueT, shiBlue50, shiBlue75, shiBlue25, shiBand, [
  { type: 'dbl', x: 1.4, y1: 5.0, y2: 1.6, color: recCol, head: 3.5, lw: 1.2 },
  { type: 'text', x: 2.5, y: 3.1, text: 'Record', color: recTxt, size: 7 }
]);

// Mera legend
addHTML('<svg class="ov" width="162" height="22" style="left:427px;top:531px" font-family=\'' + FONT + '\' font-size="5.5" fill="#333">' +
  '<rect x="0.5" y="0.5" width="161" height="21" fill="#fff" stroke="#888"/>' +
  lg(3, 33, 4.5, bluCol, 2.5) + lt(36, 6.5, 'FLT-50%ile') +
  lg(86, 115, 4.5, blu75Col, 1, '2,1') + lt(117, 6.5, 'FLT-75%ile') +
  lg(3, 33, 11, blu25Col, 1, '2.5,1') + lt(36, 13, 'FLT-25%ile') +
  lg(86, 115, 11, redCol, 2.5) + lt(117, 13, 'SL+FLT-50%ile') +
  lg(3, 33, 17.5, red75Col, 1, '2.5,1') + lt(36, 19.5, 'SL+FLT-75%ile') +
  lg(86, 115, 17.5, red25Col, 1, '2.5,1') + lt(117, 19.5, 'SL+FLT-25%ile') +
  '</svg>');

// station titles
const orange = '#e07b1f';
txt('18', 120, 518, 10.5, orange, true); txt('Yuigahama', 133, 518.5, 8, '#222', true);
txt('47', 377, 517, 10.5, orange, true); txt('Mera', 389, 518, 8, '#222', true);
txt('12', 120, 657, 10.5, orange, true); txt('Atami', 134, 657.5, 8, '#222', true);
txt('13', 377, 657, 10.5, orange, true); txt('Manazuru', 391, 657.5, 8, '#222', true);
txt('1', 124, 798, 10.5, orange, true); txt('Oshima', 134, 799, 8, '#222', true);
txt('2', 380, 798, 10.5, orange, true); txt('Shimoda', 392, 798.5, 8, '#222', true);
txt('(c)', 26, 530, 17);
txt('Time [min]', 323, 933, 8.5, '#333');
</script>
</body>
</html>
